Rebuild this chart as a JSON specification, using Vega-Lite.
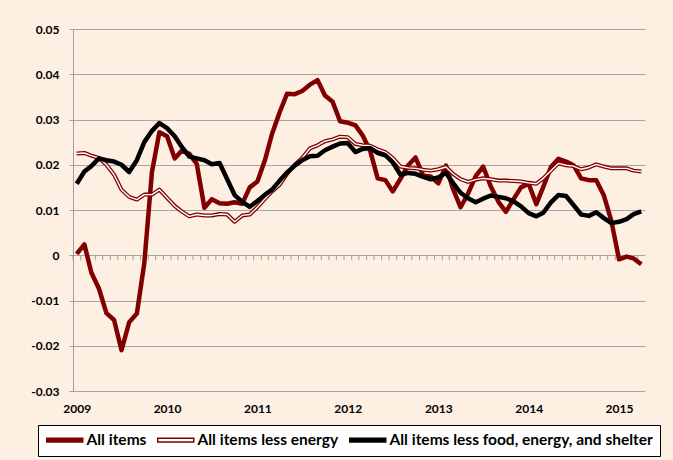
{
  "$schema": "https://vega.github.io/schema/vega-lite/v6.json",
  "width": 572,
  "height": 362,
  "autosize": {"type": "none"},
  "padding": {"left": 73, "top": 29, "right": 28, "bottom": 69},
  "background": "#FDEFE2",
  "config": {
    "view": {"stroke": null},
    "font": "Lato",
    "axis": {"labelFont": "Lato", "labelFontWeight": "bold", "labelColor": "#000000", "title": null}
  },
  "data": {
    "values": [
      {"date": "2009-01-01", "all": 0.0003, "lessEnergy": 0.0225, "core": 0.0158},
      {"date": "2009-02-01", "all": 0.0024, "lessEnergy": 0.0226, "core": 0.0185},
      {"date": "2009-03-01", "all": -0.0038, "lessEnergy": 0.0220, "core": 0.0197},
      {"date": "2009-04-01", "all": -0.0074, "lessEnergy": 0.0215, "core": 0.0214},
      {"date": "2009-05-01", "all": -0.0128, "lessEnergy": 0.0200, "core": 0.0210},
      {"date": "2009-06-01", "all": -0.0143, "lessEnergy": 0.0178, "core": 0.0207},
      {"date": "2009-07-01", "all": -0.0210, "lessEnergy": 0.0145, "core": 0.0200},
      {"date": "2009-08-01", "all": -0.0148, "lessEnergy": 0.0129, "core": 0.0184},
      {"date": "2009-09-01", "all": -0.0129, "lessEnergy": 0.0123, "core": 0.0210},
      {"date": "2009-10-01", "all": -0.0018, "lessEnergy": 0.0134, "core": 0.0250},
      {"date": "2009-11-01", "all": 0.0184, "lessEnergy": 0.0134, "core": 0.0275},
      {"date": "2009-12-01", "all": 0.0272, "lessEnergy": 0.0145, "core": 0.0292},
      {"date": "2010-01-01", "all": 0.0263, "lessEnergy": 0.0127, "core": 0.0281},
      {"date": "2010-02-01", "all": 0.0214, "lessEnergy": 0.0109, "core": 0.0263},
      {"date": "2010-03-01", "all": 0.0231, "lessEnergy": 0.0097, "core": 0.0240},
      {"date": "2010-04-01", "all": 0.0224, "lessEnergy": 0.0086, "core": 0.0218},
      {"date": "2010-05-01", "all": 0.0202, "lessEnergy": 0.0090, "core": 0.0214},
      {"date": "2010-06-01", "all": 0.0105, "lessEnergy": 0.0088, "core": 0.0210},
      {"date": "2010-07-01", "all": 0.0124, "lessEnergy": 0.0088, "core": 0.0201},
      {"date": "2010-08-01", "all": 0.0115, "lessEnergy": 0.0091, "core": 0.0204},
      {"date": "2010-09-01", "all": 0.0114, "lessEnergy": 0.0090, "core": 0.0168},
      {"date": "2010-10-01", "all": 0.0117, "lessEnergy": 0.0074, "core": 0.0133},
      {"date": "2010-11-01", "all": 0.0114, "lessEnergy": 0.0088, "core": 0.0118},
      {"date": "2010-12-01", "all": 0.0150, "lessEnergy": 0.0090, "core": 0.0107},
      {"date": "2011-01-01", "all": 0.0163, "lessEnergy": 0.0106, "core": 0.0120},
      {"date": "2011-02-01", "all": 0.0211, "lessEnergy": 0.0125, "core": 0.0134},
      {"date": "2011-03-01", "all": 0.0268, "lessEnergy": 0.0141, "core": 0.0145},
      {"date": "2011-04-01", "all": 0.0316, "lessEnergy": 0.0156, "core": 0.0165},
      {"date": "2011-05-01", "all": 0.0357, "lessEnergy": 0.0180, "core": 0.0183},
      {"date": "2011-06-01", "all": 0.0356, "lessEnergy": 0.0200, "core": 0.0198},
      {"date": "2011-07-01", "all": 0.0363, "lessEnergy": 0.0215, "core": 0.0210},
      {"date": "2011-08-01", "all": 0.0377, "lessEnergy": 0.0236, "core": 0.0219},
      {"date": "2011-09-01", "all": 0.0387, "lessEnergy": 0.0243, "core": 0.0220},
      {"date": "2011-10-01", "all": 0.0353, "lessEnergy": 0.0252, "core": 0.0232},
      {"date": "2011-11-01", "all": 0.0339, "lessEnergy": 0.0256, "core": 0.0240},
      {"date": "2011-12-01", "all": 0.0296, "lessEnergy": 0.0262, "core": 0.0247},
      {"date": "2012-01-01", "all": 0.0293, "lessEnergy": 0.0261, "core": 0.0248},
      {"date": "2012-02-01", "all": 0.0287, "lessEnergy": 0.0246, "core": 0.0228},
      {"date": "2012-03-01", "all": 0.0265, "lessEnergy": 0.0243, "core": 0.0235},
      {"date": "2012-04-01", "all": 0.0230, "lessEnergy": 0.0242, "core": 0.0237},
      {"date": "2012-05-01", "all": 0.0170, "lessEnergy": 0.0234, "core": 0.0226},
      {"date": "2012-06-01", "all": 0.0166, "lessEnergy": 0.0228, "core": 0.0221},
      {"date": "2012-07-01", "all": 0.0141, "lessEnergy": 0.0215, "core": 0.0205},
      {"date": "2012-08-01", "all": 0.0169, "lessEnergy": 0.0196, "core": 0.0178},
      {"date": "2012-09-01", "all": 0.0199, "lessEnergy": 0.0193, "core": 0.0182},
      {"date": "2012-10-01", "all": 0.0216, "lessEnergy": 0.0192, "core": 0.0180},
      {"date": "2012-11-01", "all": 0.0176, "lessEnergy": 0.0189, "core": 0.0173},
      {"date": "2012-12-01", "all": 0.0174, "lessEnergy": 0.0187, "core": 0.0168},
      {"date": "2013-01-01", "all": 0.0159, "lessEnergy": 0.0190, "core": 0.0172},
      {"date": "2013-02-01", "all": 0.0198, "lessEnergy": 0.0195, "core": 0.0182},
      {"date": "2013-03-01", "all": 0.0147, "lessEnergy": 0.0180, "core": 0.0160},
      {"date": "2013-04-01", "all": 0.0106, "lessEnergy": 0.0168, "core": 0.0138},
      {"date": "2013-05-01", "all": 0.0136, "lessEnergy": 0.0162, "core": 0.0126},
      {"date": "2013-06-01", "all": 0.0175, "lessEnergy": 0.0167, "core": 0.0117},
      {"date": "2013-07-01", "all": 0.0196, "lessEnergy": 0.0170, "core": 0.0125},
      {"date": "2013-08-01", "all": 0.0152, "lessEnergy": 0.0168, "core": 0.0132},
      {"date": "2013-09-01", "all": 0.0118, "lessEnergy": 0.0165, "core": 0.0129},
      {"date": "2013-10-01", "all": 0.0096, "lessEnergy": 0.0165, "core": 0.0126},
      {"date": "2013-11-01", "all": 0.0124, "lessEnergy": 0.0164, "core": 0.0119},
      {"date": "2013-12-01", "all": 0.0150, "lessEnergy": 0.0163, "core": 0.0108},
      {"date": "2014-01-01", "all": 0.0158, "lessEnergy": 0.0160, "core": 0.0093},
      {"date": "2014-02-01", "all": 0.0113, "lessEnergy": 0.0158, "core": 0.0086},
      {"date": "2014-03-01", "all": 0.0151, "lessEnergy": 0.0170, "core": 0.0094},
      {"date": "2014-04-01", "all": 0.0195, "lessEnergy": 0.0187, "core": 0.0117},
      {"date": "2014-05-01", "all": 0.0213, "lessEnergy": 0.0203, "core": 0.0133},
      {"date": "2014-06-01", "all": 0.0207, "lessEnergy": 0.0199, "core": 0.0131},
      {"date": "2014-07-01", "all": 0.0199, "lessEnergy": 0.0197, "core": 0.0111},
      {"date": "2014-08-01", "all": 0.0170, "lessEnergy": 0.0190, "core": 0.0090},
      {"date": "2014-09-01", "all": 0.0166, "lessEnergy": 0.0194, "core": 0.0087},
      {"date": "2014-10-01", "all": 0.0166, "lessEnergy": 0.0201, "core": 0.0095},
      {"date": "2014-11-01", "all": 0.0132, "lessEnergy": 0.0196, "core": 0.0082},
      {"date": "2014-12-01", "all": 0.0076, "lessEnergy": 0.0192, "core": 0.0071},
      {"date": "2015-01-01", "all": -0.0009, "lessEnergy": 0.0192, "core": 0.0074},
      {"date": "2015-02-01", "all": -0.0003, "lessEnergy": 0.0192, "core": 0.0080},
      {"date": "2015-03-01", "all": -0.0007, "lessEnergy": 0.0187, "core": 0.0091},
      {"date": "2015-04-01", "all": -0.0020, "lessEnergy": 0.0185, "core": 0.0097}
    ]
  },
  "layer": [
    {
      "mark": {"type": "rule", "color": "#A0A0A0", "strokeWidth": 1},
      "encoding": {
        "x": {
          "field": "date", "type": "temporal",
          "scale": {"type": "utc", "domain": [{"year": 2009, "month": 1, "date": 1, "utc": true}, {"year": 2015, "month": 5, "date": 1, "utc": true}]},
          "axis": null
        },
        "y": {"datum": 0, "type": "quantitative", "scale": {"domain": [-0.03, 0.05], "nice": false, "zero": false}},
        "y2": {"datum": -0.0011}
      }
    },
    {
      "layer": [
        {
          "mark": {"type": "line", "strokeWidth": 4.5, "strokeJoin": "round"},
          "encoding": {
            "x": {
              "field": "date", "type": "temporal",
              "scale": {"type": "utc", "domain": [{"year": 2008, "month": 12, "date": 17, "utc": true}, {"year": 2015, "month": 4, "date": 16, "utc": true}]},
              "axis": {"orient": "bottom", "format": "%Y", "tickCount": {"interval": "year", "step": 1}, "ticks": false, "tickSize": 0, "domain": false, "grid": false, "labelPadding": 12, "labelFontSize": 12, "labelFontWeight": "bold", "labelColor": "#000000", "title": null}
            },
            "y": {
              "field": "all", "type": "quantitative",
              "scale": {"domain": [-0.03, 0.05], "nice": false, "zero": false},
              "axis": {"values": [-0.03, -0.02, -0.01, 0, 0.01, 0.02, 0.03, 0.04, 0.05], "labelExpr": "datum.value + ''", "title": null, "grid": true, "gridColor": "#A6A6A6", "gridWidth": 1, "domainColor": "#A0A0A0", "tickColor": "#A0A0A0", "tickSize": 4, "labelPadding": 10, "labelFontSize": 12, "labelFontWeight": "bold", "labelColor": "#000000"}
            },
            "color": {
              "datum": "All items",
              "scale": {"domain": ["All items", "All items less energy", "All items less food, energy, and shelter"], "range": ["#800000", "#800000", "#000000"]},
              "legend": {
                "orient": "none", "legendX": -35, "legendY": 396, "direction": "horizontal", "title": null,
                "fillColor": "#FFFFFF", "strokeColor": "#000000", "padding": 7,
                "symbolType": "M-1,-0.3H5V0.3H-1Z", "symbolSize": 144, "symbolStrokeWidth": 1.5,
                "labelOffset": 26, "columnPadding": 7, "labelFont": "Lato", "labelFontSize": 15.5, "labelFontWeight": "bold", "labelColor": "#000000", "labelLimit": 400,
                "encode": {"symbols": {"update": {
                  "fill": {"signal": "datum.value === 'All items less food, energy, and shelter' ? '#000000' : datum.value === 'All items less energy' ? '#FFFFFF' : '#800000'"},
                  "stroke": {"signal": "datum.value === 'All items less food, energy, and shelter' ? '#000000' : '#800000'"},
                  "opacity": {"value": 1}
                }}}
              }
            }
          }
        },
        {
          "mark": {"type": "line", "strokeWidth": 4, "strokeJoin": "round"},
          "encoding": {
            "x": {"field": "date", "type": "temporal", "scale": {"type": "utc", "domain": [{"year": 2008, "month": 12, "date": 17, "utc": true}, {"year": 2015, "month": 4, "date": 16, "utc": true}]}},
            "y": {"field": "lessEnergy", "type": "quantitative", "scale": {"domain": [-0.03, 0.05], "nice": false, "zero": false}},
            "color": {"datum": "All items less energy"}
          }
        },
        {
          "mark": {"type": "line", "strokeWidth": 1.4, "color": "#FFFFFF", "strokeJoin": "round"},
          "encoding": {
            "x": {"field": "date", "type": "temporal", "scale": {"type": "utc", "domain": [{"year": 2008, "month": 12, "date": 17, "utc": true}, {"year": 2015, "month": 4, "date": 16, "utc": true}]}},
            "y": {"field": "lessEnergy", "type": "quantitative", "scale": {"domain": [-0.03, 0.05], "nice": false, "zero": false}}
          }
        },
        {
          "mark": {"type": "line", "strokeWidth": 4.5, "strokeJoin": "round"},
          "encoding": {
            "x": {"field": "date", "type": "temporal", "scale": {"type": "utc", "domain": [{"year": 2008, "month": 12, "date": 17, "utc": true}, {"year": 2015, "month": 4, "date": 16, "utc": true}]}},
            "y": {"field": "core", "type": "quantitative", "scale": {"domain": [-0.03, 0.05], "nice": false, "zero": false}},
            "color": {"datum": "All items less food, energy, and shelter"}
          }
        }
      ]
    }
  ],
  "resolve": {"scale": {"x": "independent"}}
}
